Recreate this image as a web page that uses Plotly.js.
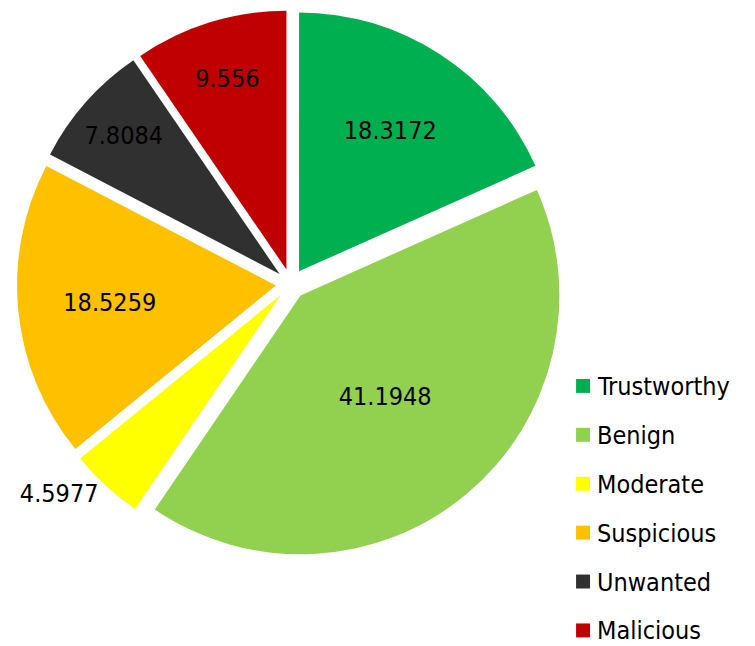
<!DOCTYPE html>
<html>
<head>
<meta charset="utf-8">
<script src="https://cdn.plot.ly/plotly-3.0.1.min.js"></script>
<style>html,body{margin:0;padding:0;background:#fff;}#chart{width:755px;height:646px;}</style>
</head>
<body>
<div id="chart"></div>
<script>
const categories = ['Trustworthy', 'Benign', 'Moderate', 'Suspicious', 'Unwanted', 'Malicious'];
const values = [18.3172, 41.1948, 4.5977, 18.5259, 7.8084, 9.556];
const colors = ['#00B050', '#92D050', '#FFFF00', '#FFC000', '#303030', '#C00000'];
const textPositions = ['inside', 'inside', 'outside', 'inside', 'inside', 'inside'];

const FONT = 'DejaVu Sans Condensed, DejaVu Sans, sans-serif';

const trace = {
  type: 'pie',
  labels: categories,
  values: values,
  sort: false,
  direction: 'clockwise',
  rotation: 0,
  pull: 0.058,
  marker: { colors: colors, line: { width: 0 } },
  textinfo: 'value',
  textposition: textPositions,
  insidetextorientation: 'horizontal',
  textfont: { family: FONT, size: 25, color: '#000000' },
  outsidetextfont: { family: FONT, size: 25, color: '#000000' },
  domain: { x: [0.0225, 0.748], y: [0.136, 0.985] },
  automargin: false,
  hoverinfo: 'label+value',
  showlegend: false
};

// Manual legend (spacing matches original)
const legendTop = 0.4026;   // paper y of first entry centre (from bottom)
const legendStep = 0.0757;
const shapes = [];
const annotations = [];
categories.forEach((c, i) => {
  const yc = legendTop - i * legendStep;
  shapes.push({
    type: 'rect', xref: 'paper', yref: 'paper',
    x0: 0.7630, x1: 0.7815, y0: yc - 0.0108, y1: yc + 0.0108,
    fillcolor: colors[i], line: { width: 0 }
  });
  annotations.push({
    xref: 'paper', yref: 'paper', x: 0.790, y: yc,
    xanchor: 'left', yanchor: 'middle', showarrow: false,
    height: 28, borderpad: 0,
    text: c, font: { family: FONT, size: 25, color: '#000000' }
  });
});

const layout = {
  width: 755, height: 646,
  margin: { l: 0, r: 0, t: 0, b: 0 },
  paper_bgcolor: '#ffffff',
  showlegend: false,
  shapes: shapes,
  annotations: annotations
};

Plotly.newPlot('chart', [trace], layout, { displayModeBar: false, staticPlot: true });
</script>
</body>
</html>
